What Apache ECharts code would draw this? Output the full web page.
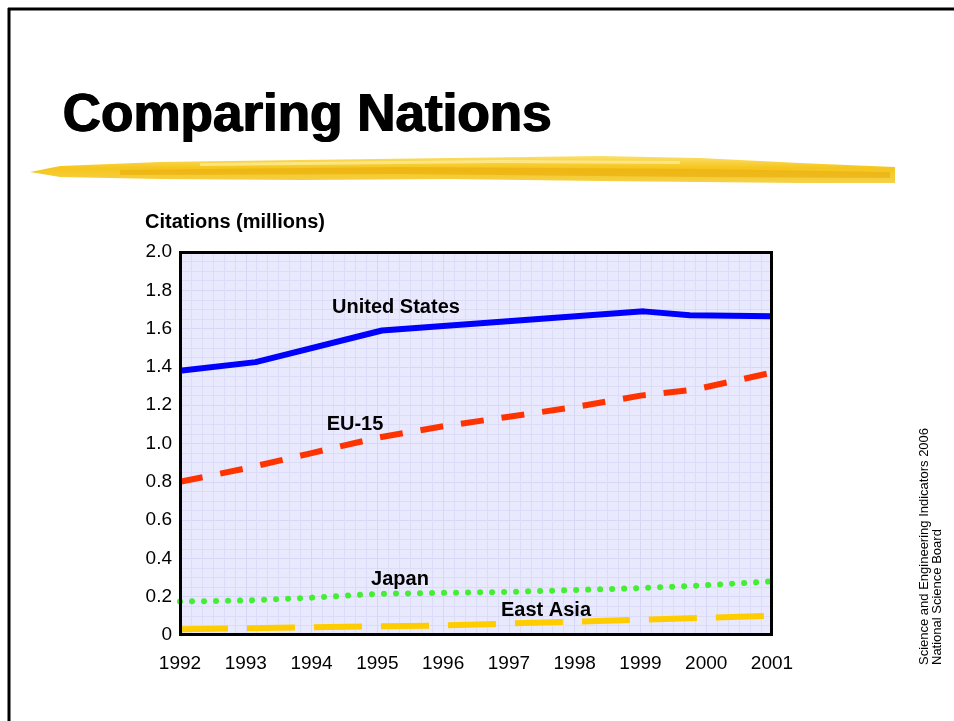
<!DOCTYPE html>
<html>
<head>
<meta charset="utf-8">
<script src="https://cdn.jsdelivr.net/npm/echarts@6/dist/echarts.min.js"></script>
<style>
  html, body { margin: 0; padding: 0; background: #fff; }
  #chart { width: 954px; height: 721px; }
</style>
</head>
<body>
<div id="chart"></div>
<script>
// values (citations, millions)
const yearTicks = [1992, 1993, 1994, 1995, 1996, 1997, 1998, 1999, 2000, 2001];
const usYears = [1992, 1993.15, 1995.07, 1999.05, 1999.75, 2001];
const usValues = [1.38, 1.425, 1.59, 1.69, 1.67, 1.665];
const euYears = [1992, 1993, 1994, 1995, 1996, 1997, 1998, 1999, 1999.8, 2001];
const euValues = [0.80, 0.87, 0.95, 1.03, 1.09, 1.14, 1.19, 1.25, 1.28, 1.37];
const japanValues = [0.175, 0.18, 0.195, 0.215, 0.22, 0.225, 0.235, 0.245, 0.26, 0.28];
const eastAsiaValues = [0.03, 0.035, 0.04, 0.045, 0.05, 0.06, 0.07, 0.08, 0.09, 0.10];

const pair = (xs, ys) => xs.map((x, i) => [x, ys[i]]);

const labelFont = 'bold 20px "Liberation Sans", Arial, sans-serif';
const titleFont = 'bold 53px "Liberation Sans", Arial, sans-serif';
function note(x, y, text) {
    return {
        type: 'text', x: x, y: y, z: 50,
        style: { text: text, font: labelFont, fill: '#000', align: 'center', verticalAlign: 'middle' }
    };
}
// title drawn a few times with tiny offsets so it looks as heavy as the original
function titlePart(dx) {
    return {
        type: 'text', x: 62 + dx, y: 116,
        style: { text: 'Comparing Nations', font: titleFont, fill: '#000', verticalAlign: 'middle' }
    };
}

var chart = echarts.init(document.getElementById('chart'));

chart.setOption({
    animation: false,
    backgroundColor: '#ffffff',
    grid: {
        left: 180, right: 182, top: 252, bottom: 86,
        show: true,
        backgroundColor: '#e9e9fe',
        borderWidth: 0
    },
    xAxis: {
        type: 'value',
        min: 1992, max: 2001, interval: 1,
        axisLine: { show: false },
        axisTick: { show: false },
        axisLabel: {
            margin: 19,
            fontFamily: 'Liberation Sans, Arial, sans-serif',
            fontSize: 19,
            color: '#000',
            formatter: v => String(v)
        },
        splitLine: { show: true, lineStyle: { color: '#d6d6f7', width: 1 } },
        minorTick: { show: false, splitNumber: 6 },
        minorSplitLine: { show: true, lineStyle: { color: '#dcdcf9', width: 1 } }
    },
    yAxis: {
        type: 'value',
        min: 0, max: 2, interval: 0.2,
        axisLine: { show: false },
        axisTick: { show: false },
        axisLabel: {
            margin: 8,
            fontFamily: 'Liberation Sans, Arial, sans-serif',
            fontSize: 19,
            color: '#000',
            formatter: v => v === 0 ? '0' : v.toFixed(1)
        },
        splitLine: { show: true, lineStyle: { color: '#d6d6f7', width: 1 } },
        minorTick: { show: false, splitNumber: 4 },
        minorSplitLine: { show: true, lineStyle: { color: '#dcdcf9', width: 1 } }
    },
    series: [
        {
            name: 'United States', type: 'line', symbol: 'none',
            data: pair(usYears, usValues),
            lineStyle: { color: '#0000ff', width: 6, join: 'round' }
        },
        {
            name: 'EU-15', type: 'line', symbol: 'none',
            data: pair(euYears, euValues),
            lineStyle: { color: '#ff3300', width: 6, type: [23, 18] }
        },
        {
            name: 'Japan', type: 'line', symbol: 'none',
            data: pair(yearTicks, japanValues),
            lineStyle: { color: '#44ee33', width: 6, type: [0.01, 12], cap: 'round' }
        },
        {
            name: 'East Asia', type: 'line', symbol: 'none',
            data: pair(yearTicks, eastAsiaValues),
            lineStyle: { color: '#ffcc00', width: 6, type: [48, 19] }
        }
    ],
    graphic: [
        // slide frame
        { type: 'line', shape: { x1: 8, y1: 9, x2: 954, y2: 9 }, style: { stroke: '#000', lineWidth: 3 } },
        { type: 'line', shape: { x1: 9, y1: 8, x2: 9, y2: 721 }, style: { stroke: '#000', lineWidth: 3 } },
        // plot frame on top of the grid lines
        {
            type: 'rect', z: 40, silent: true,
            shape: { x: 180.5, y: 252.5, width: 591, height: 382 },
            style: { fill: null, stroke: '#000', lineWidth: 3 }
        },
        // title
        titlePart(0), titlePart(0.8), titlePart(1.6),
        // yellow brush stroke
        {
            type: 'polygon',
            shape: { points: [[30, 172], [60, 166], [160, 162], [300, 160], [450, 158], [600, 156], [700, 158], [800, 163], [895, 167],
                              [895, 183], [800, 183], [700, 182], [600, 181], [450, 179], [300, 180], [160, 179], [60, 177]] },
            style: {
                fill: new echarts.graphic.LinearGradient(0, 0, 0, 1, [
                    { offset: 0, color: '#fbe06a' },
                    { offset: 0.45, color: '#f6c51c' },
                    { offset: 1, color: '#f4d24a' }
                ])
            }
        },
        {
            type: 'polygon',
            shape: { points: [[120, 170], [400, 167], [700, 169], [890, 172], [890, 178], [700, 177], [400, 174], [120, 175]] },
            style: { fill: 'rgba(232,170,10,0.55)' }
        },
        {
            type: 'polygon',
            shape: { points: [[200, 163], [500, 160], [680, 161], [680, 164], [500, 163], [200, 166]] },
            style: { fill: 'rgba(255,240,160,0.7)' }
        },
        // y axis title
        {
            type: 'text', x: 145, y: 222,
            style: { text: 'Citations (millions)', font: 'bold 20px "Liberation Sans", Arial, sans-serif', fill: '#000', verticalAlign: 'middle' }
        },
        // series labels
        note(396, 307, 'United States'),
        note(355, 424, 'EU-15'),
        note(400, 579, 'Japan'),
        note(546, 610, 'East Asia'),
        // source note, rotated
        {
            type: 'text', x: 931, y: 665, rotation: Math.PI / 2,
            style: {
                text: 'Science and Engineering Indicators 2006\nNational Science Board',
                font: '13px "Liberation Sans", Arial, sans-serif', lineHeight: 13,
                fill: '#000', align: 'left', verticalAlign: 'middle'
            }
        }
    ]
});
</script>
</body>
</html>
